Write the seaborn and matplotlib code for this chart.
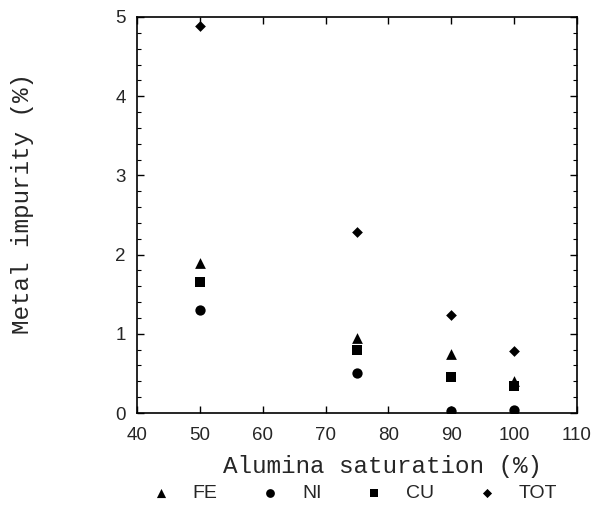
import matplotlib
matplotlib.use("Agg")
import matplotlib.pyplot as plt
from matplotlib.ticker import MultipleLocator
import seaborn as sns
import pandas as pd

saturation = [50, 75, 90, 100]
fe = [1.89, 0.95, 0.74, 0.40]
ni = [1.30, 0.51, 0.03, 0.04]
cu = [1.65, 0.79, 0.46, 0.34]
tot = [4.89, 2.29, 1.24, 0.78]
series_names = ["FE", "NI", "CU", "TOT"]

rows = []
for name, vals in zip(series_names, [fe, ni, cu, tot]):
    for x, v in zip(saturation, vals):
        rows.append({"sat": x, "imp": v, "metal": name})
df = pd.DataFrame(rows)

sns.set_style("white")
plt.rcParams["font.family"] = ["Liberation Sans", "DejaVu Sans"]

fig = plt.figure(figsize=(6.02, 5.18), dpi=100)
ax = fig.add_axes([137/602, 1-413/518, 440/602, 396/518])

markers = {"FE": "^", "NI": "o", "CU": "s", "TOT": "D"}
sizes_map = {"FE": 60, "NI": 55, "CU": 48, "TOT": 30}
for name in series_names:
    sub = df[df.metal == name]
    sns.scatterplot(data=sub, x="sat", y="imp", marker=markers[name], color="black",
                    s=sizes_map[name], linewidth=0, ax=ax, label=name, zorder=3)

ax.set_xlim(40, 110)
ax.set_ylim(0, 5)
ax.xaxis.set_major_locator(MultipleLocator(10))
ax.yaxis.set_major_locator(MultipleLocator(1))
ax.yaxis.set_minor_locator(MultipleLocator(0.2))
ax.tick_params(which="both", direction="in", top=True, right=True, bottom=True, left=True,
               labelsize=13.5, color="black")
ax.tick_params(which="major", length=5, width=1)
ax.tick_params(which="minor", length=3, width=0.8)
ax.tick_params(axis="x", pad=10)
ax.tick_params(axis="y", pad=8)
for sp in ax.spines.values():
    sp.set_color("black")
    sp.set_linewidth(1.2)

mono = ["Liberation Mono", "DejaVu Sans Mono"]
ax.set_xlabel("Alumina saturation (%)", fontsize=17.5, family=mono)
ax.set_ylabel("Metal impurity (%)", fontsize=17.5, family=mono)
ax.xaxis.set_label_coords(0.557, -0.105)
ax.yaxis.set_label_coords(-0.235, 0.53)

handles, labels = ax.get_legend_handles_labels()
leg = ax.legend(handles, labels, loc="center", bbox_to_anchor=(354/602, 1-493/518),
                bbox_transform=fig.transFigure, ncol=4, frameon=False, fontsize=14,
                markerscale=0.85, handlelength=1.0, handletextpad=1.15,
                columnspacing=2.2, borderpad=0, borderaxespad=0)

fig.savefig("out.png", dpi=100, facecolor="white")
